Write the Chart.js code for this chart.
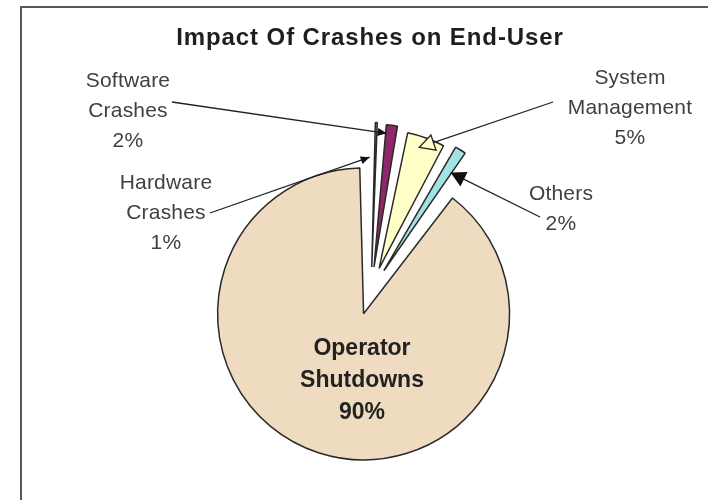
<!DOCTYPE html>
<html lang="en">
<head>
<meta charset="UTF-8" />
<title>Impact Of Crashes on End-User</title>
<script src="https://cdn.jsdelivr.net/npm/chart.js"></script>
<style>
  body {
    margin: 0;
    background: #fff;
    overflow: hidden;
  }
  #frame {
    position: absolute;
    left: 20px;
    top: 6px;
    width: 800px;
    height: 600px;
    border: 2.5px solid #585858;
  }
  #pie {
    position: absolute;
    left: 0;
    top: 0;
  }
</style>
</head>
<body>
  <div id="frame"></div>
  <canvas id="pie" width="708" height="500"></canvas>

<script>
  const title = 'Impact Of Crashes on End-User';
  const categories = ['Hardware Crashes', 'Software Crashes', 'System Management', 'Others', 'Operator Shutdowns'];
  const shares = [1, 2, 5, 2, 90];

  const sliceColors = ['#9393f2', '#8e2868', '#ffffc8', '#a3e2e2', '#efdcc0'];

  // every wedge is pulled out by the same distance from the centre
  const EXPLODE = 24;

  // text block + leader line for each slice (from = text end, tip = point on the slice)
  const callouts = [
    { x: 166, y: 189, from: [210, 213], tip: [-0.3, 0.76], head: 'small' },
    { x: 128, y: 87,  from: [172, 102], tip: [0.25, 0.94], head: 'small' },
    { x: 630, y: 84,  from: [553, 102], tip: [0.42, 0.92], head: 'open' },
    { x: 561, y: 200, from: [540, 217], tip: [0.75, 0.83], head: 'filled' },
    { x: 362, y: 355, inside: true }
  ];

  function labelLines(i) {
    const words = categories[i].split(' ');
    return words.concat(shares[i] + '%');
  }

  // Chart.js moves an arc by offset/4 and grows its radius by offset/4 * fix
  function arcPoint(arc, frac, radFrac) {
    const p = arc.getProps(['x', 'y', 'startAngle', 'endAngle', 'outerRadius', 'circumference'], true);
    const half = (p.startAngle + p.endAngle) / 2;
    const shift = (arc.options.offset || 0) / 4;
    const fix = 1 - Math.sin(Math.min(Math.PI, p.circumference));
    const r = p.outerRadius + shift * fix;
    const a = p.startAngle + (p.endAngle - p.startAngle) * frac;
    return {
      x: p.x + Math.cos(half) * shift + Math.cos(a) * r * radFrac,
      y: p.y + Math.sin(half) * shift + Math.sin(a) * r * radFrac
    };
  }

  function drawHead(ctx, from, to, kind, fill) {
    const ang = Math.atan2(to.y - from[1], to.x - from[0]);
    const len = kind === 'small' ? 9 : 15;
    const w = kind === 'small' ? 4 : 8;
    const bx = to.x - Math.cos(ang) * len;
    const by = to.y - Math.sin(ang) * len;
    ctx.beginPath();
    ctx.moveTo(to.x, to.y);
    ctx.lineTo(bx + Math.sin(ang) * w, by - Math.cos(ang) * w);
    ctx.lineTo(bx - Math.sin(ang) * w, by + Math.cos(ang) * w);
    ctx.closePath();
    if (kind === 'open') {
      ctx.fillStyle = fill;
      ctx.fill();
      ctx.stroke();
    } else {
      ctx.fill();
    }
  }

  const calloutPlugin = {
    id: 'callouts',
    afterDatasetsDraw(chart) {
      const ctx = chart.ctx;
      const arcs = chart.getDatasetMeta(0).data;
      ctx.save();

      // title
      ctx.fillStyle = '#1e1e1e';
      ctx.font = 'bold 24px "Liberation Sans", Arial, sans-serif';
      ctx.letterSpacing = '0.9px';
      ctx.textAlign = 'center';
      ctx.textBaseline = 'alphabetic';
      ctx.fillText(title, 370, 45);

      callouts.forEach((c, i) => {
        const lines = labelLines(i);
        if (c.inside) {
          ctx.letterSpacing = '0px';
          ctx.fillStyle = '#222';
          ctx.font = 'bold 23px "Liberation Sans", Arial, sans-serif';
          lines.forEach((t, k) => ctx.fillText(t, c.x, c.y + k * 32));
          return;
        }
        ctx.letterSpacing = '0.2px';
        ctx.fillStyle = '#404040';
        ctx.font = '21px "Liberation Sans", Arial, sans-serif';
        lines.forEach((t, k) => ctx.fillText(t, c.x, c.y + k * 30));

        const tip = arcPoint(arcs[i], c.tip[0], c.tip[1]);
        ctx.strokeStyle = '#222';
        ctx.fillStyle = '#111';
        ctx.lineWidth = 1.3;
        ctx.beginPath();
        ctx.moveTo(c.from[0], c.from[1]);
        ctx.lineTo(tip.x, tip.y);
        ctx.stroke();
        drawHead(ctx, c.from, tip, c.head, sliceColors[i]);
      });
      ctx.restore();
    }
  };

  new Chart(document.getElementById('pie'), {
    type: 'pie',
    data: {
      labels: categories,
      datasets: [{
        data: shares,
        backgroundColor: sliceColors,
        borderColor: '#2a2a2a',
        borderWidth: 1.5,
        radius: 146 - EXPLODE,
        offset: EXPLODE * 4
      }]
    },
    options: {
      responsive: false,
      animation: false,
      events: [],
      layout: {
        padding: { left: 34, right: 0, top: 82, bottom: 0 }
      },
      plugins: {
        legend: { display: false },
        tooltip: { enabled: false },
        title: { display: false }
      }
    },
    plugins: [calloutPlugin]
  });
</script>
</body>
</html>
